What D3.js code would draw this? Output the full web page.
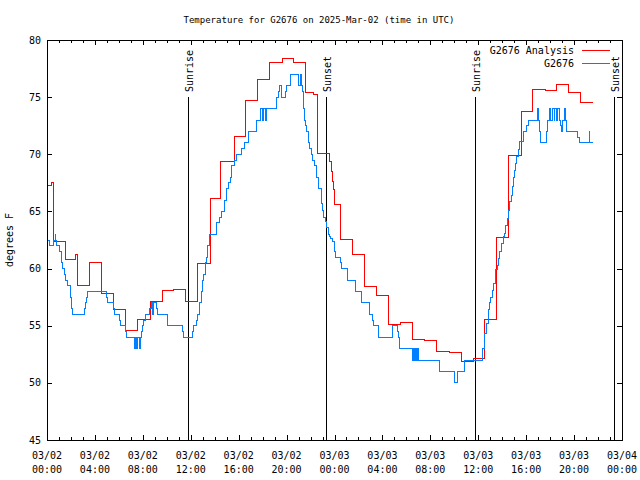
<!DOCTYPE html>
<html><head><meta charset="utf-8">
<script src="https://cdn.jsdelivr.net/npm/d3@7"></script>
<style>
body{margin:0;background:#fff}
text{font-family:"DejaVu Sans Mono",monospace;font-size:10px;fill:#000}
</style>
</head><body>
<svg id="chart" width="640" height="480"></svg>
<script>
// ---------- DATA ----------
const startUTC = Date.UTC(2025, 2, 2, 0, 0);
const titleText = "Temperature for G2676 on 2025-Mar-02 (time in UTC)";
const yLabel = "degrees F";
const seriesNames = ["G2676 Analysis", "G2676"];
const seriesColors = ["#ff0000", "#0080ff"];

// Analysis (hours after 03/02 00:00 UTC, degrees F) - step values
const anaHours = [0,0.39,0.56,1.56,2.4,2.53,3.56,4.53,5.57,6.57,7.57,8.6,9.6,10.58,11.58,12.58,13.63,14.5,15.63,16.61,17.55,18.61,19.62,20.56,21.56,22.23,22.56,23.56,23.71,23.82,23.9,23.98,24.52,25.48,26.49,27.52,28.52,29.55,30.53,31.55,32.53,33.56,34.56,35.58,36.48,37.5,38.54,39.57,40.57,41.59,42.54,43.57,44.57,45.55];
const anaTemps = [67.3,67.55,62.33,60.8,61.25,58.48,60.55,57.86,56.38,54.6,55.56,57.1,58.1,58.2,57.14,60.47,66.09,69.41,71.6,74.75,76.56,78.05,78.4,78.05,75.39,75.2,70.03,69.35,68.48,67.6,66.88,65.63,62.56,61.25,58.39,57.66,55.15,55.24,53.81,53.75,52.76,52.64,51.86,52.15,55.56,62.74,69.91,73.73,75.68,75.6,76.12,75.42,74.55,74.55];

// Observations (hours after 03/02 00:00 UTC, degrees F) - step values
const obsHours = [0,0.08,0.17,0.58,0.67,0.75,0.83,1.08,1.17,1.25,1.33,1.42,1.58,1.75,1.92,2.0,2.08,2.17,3.17,3.25,3.33,3.42,5.0,5.08,5.58,5.67,6.08,6.17,6.58,6.67,7.33,7.42,7.5,7.58,7.75,7.83,7.92,8.0,8.08,8.25,8.58,8.75,8.83,8.92,9.17,9.25,10.08,11.33,11.42,12.13,12.2,12.5,12.6,12.7,12.77,12.86,12.97,13.08,13.19,13.3,13.41,13.58,14.16,14.44,14.58,14.8,15.0,15.14,15.28,15.42,15.69,15.83,16.25,16.47,16.81,17.5,17.86,18.0,18.11,18.2,18.34,19.17,19.31,19.45,19.59,19.87,20.01,20.31,20.98,21.12,21.26,21.31,21.4,21.48,21.59,21.7,21.81,21.95,22.04,22.15,22.3,22.51,22.7,22.93,23.0,23.12,23.23,23.34,23.46,23.57,23.68,23.8,23.96,24.04,24.1,24.54,24.6,25.07,25.74,25.79,26.24,26.27,26.9,26.96,27.16,27.24,27.66,27.69,28.8,29.24,29.33,29.41,30.52,30.6,30.67,30.76,30.82,30.93,31.0,32.8,34.03,34.25,34.89,36.34,36.56,36.7,36.84,36.98,37.06,37.17,37.26,37.4,37.48,37.59,37.7,37.81,37.95,38.09,38.23,38.31,38.42,38.54,38.65,38.76,38.84,38.93,39.01,39.12,39.2,39.34,39.48,39.76,40.04,40.18,40.93,41.01,41.1,41.2,41.71,41.79,41.93,42.07,42.18,42.35,42.4,42.54,42.63,42.77,42.9,42.96,43.05,43.24,43.29,43.38,44.3,44.43,45.27,45.3,45.38,45.55];
const obsTemps = [63,62.5,62,62.5,63,62.5,62,61.5,61,60.5,60,59.5,59,58.5,58,57.5,56.5,56,56.5,57,57.5,58,57.5,57,56.5,56,55.5,55,54.5,54,53,54,53,54,53,54,54.5,55,55.5,56,56.5,57,56,57,56.5,56,55,54.5,54,54.5,55,55.5,56,56.5,57,58,59,59.5,60.5,61,62,63,64,64.5,65,66,67,67.5,68,69,69.5,70,70.5,71,72,73,74,73,74,73,74,75,75.5,76,75,75.5,76,77,76,77,76,75.5,74,73,72.5,72,71,70.5,70,69.5,69,68,67,65.7,65.1,64.5,64.1,63.6,63,62.8,62.6,62.4,62.1,61.5,61,60.5,60,59,58.5,58,57.5,57,56.5,56,55.5,55,54.5,54,55,54.5,54,53,52,53,52,53,52,53,52,51,50,51,52,53,54.3,55.2,56.4,57,57.5,58.1,58.7,59.3,59.9,60.3,60.9,61.5,62.2,62.8,63.1,63.8,64.4,65.1,65.9,66.4,67.2,68,68.6,69.2,69.8,70.4,71.1,72,72.5,73,74,73,72,71,72,73,74,73,74,73,74,73,74,73,72.5,72,73,74,73,72,71.5,71,72,71,71,71];

// Sun events (hours after start)
const sunLabels = ["Sunrise", "Sunset", "Sunrise", "Sunset"];
const sunHours = [11.77, 23.31, 35.75, 47.3];

// Axis ticks
const yTicks = [45, 50, 55, 60, 65, 70, 75, 80];
const xMajorHours = [0, 4, 8, 12, 16, 20, 24, 28, 32, 36, 40, 44, 48];
const xMinorHours = d3.range(0, 49, 1);

// ---------- DRAW ----------
const m = {left: 47, right: 622, top: 40, bottom: 440};
const svg = d3.select("#chart");
const hourMs = 3600 * 1000;
const toDate = h => new Date(startUTC + h * hourMs);

const x = d3.scaleUtc().domain([toDate(0), toDate(48)]).range([m.left, m.right]);
const y = d3.scaleLinear().domain([45, 80]).range([m.bottom, m.top]);

// ticks (inward, mirrored)
const fmtDay = d3.utcFormat("%m/%d"), fmtTime = d3.utcFormat("%H:%M");
function xAxis(gen, ty, size, vals) {
  svg.append("g").attr("transform", `translate(0,${ty})`)
    .call(gen(x).tickValues(vals.map(toDate)).tickSize(size).tickFormat(""))
    .call(g => g.select(".domain").remove())
    .call(g => g.selectAll("line").attr("stroke", "#000").attr("shape-rendering", "crispEdges"));
}
xAxis(d3.axisBottom, m.bottom, -3, xMinorHours);
xAxis(d3.axisBottom, m.bottom, -5, xMajorHours);
xAxis(d3.axisTop, m.top, -3, xMinorHours);
xAxis(d3.axisTop, m.top, -5, xMajorHours);

function yAxis(gen, tx) {
  svg.append("g").attr("transform", `translate(${tx},0)`)
    .call(gen(y).tickValues(yTicks).tickSize(-5).tickFormat(""))
    .call(g => g.select(".domain").remove())
    .call(g => g.selectAll("line").attr("stroke", "#000").attr("shape-rendering", "crispEdges"));
}
yAxis(d3.axisLeft, m.left);
yAxis(d3.axisRight, m.right);

// y tick labels
svg.append("g").selectAll("text").data(yTicks).join("text")
  .attr("x", m.left - 6).attr("y", d => y(d) + 3.5)
  .attr("text-anchor", "end").text(d => d);

// x tick labels (two lines)
const xl = svg.append("g").selectAll("text").data(xMajorHours).join("text")
  .attr("text-anchor", "middle");
xl.append("tspan").attr("x", d => x(toDate(d))).attr("y", 459).text(d => fmtDay(toDate(d)));
xl.append("tspan").attr("x", d => x(toDate(d))).attr("y", 473).text(d => fmtTime(toDate(d)));

// sun lines
sunHours.forEach((h, i) => {
  const sx = Math.round(x(toDate(h))) + 0.5;
  svg.append("line").attr("x1", sx).attr("x2", sx).attr("y1", 97).attr("y2", m.bottom)
    .attr("stroke", "#000").attr("stroke-width", 1).attr("shape-rendering", "crispEdges");
  svg.append("text").attr("transform", `translate(${sx + 4},92) rotate(-90)`)
    .attr("text-anchor", "start").text(sunLabels[i]);
});

// series
const line = d3.line().curve(d3.curveStepAfter)
  .x(d => x(toDate(d[0]))).y(d => y(d[1]));
const ana = anaHours.map((h, i) => [h, anaTemps[i]]);
const obs = obsHours.map((h, i) => [h, obsTemps[i]]);
svg.append("path").datum(ana).attr("d", line).attr("fill", "none")
  .attr("stroke", seriesColors[0]).attr("stroke-width", 1).attr("shape-rendering", "crispEdges");
svg.append("path").datum(obs).attr("d", line).attr("fill", "none")
  .attr("stroke", seriesColors[1]).attr("stroke-width", 1).attr("shape-rendering", "crispEdges");

// frame
svg.append("rect").attr("x", m.left + 0.5).attr("y", m.top + 0.5)
  .attr("width", m.right - m.left).attr("height", m.bottom - m.top)
  .attr("fill", "none").attr("stroke", "#000").attr("stroke-width", 1);

// title
svg.append("text").attr("x", 319).attr("y", 23).attr("text-anchor", "middle")
  .style("font-size", "9px").text(titleText);

// y label
svg.append("text").attr("transform", `translate(13,240) rotate(-90)`)
  .attr("text-anchor", "middle").text(yLabel);

// legend
const legY = [50, 63];
seriesNames.forEach((n, i) => {
  svg.append("text").attr("x", 574).attr("y", legY[i] + 4).attr("text-anchor", "end").text(n);
  svg.append("line").attr("x1", 582).attr("x2", 610).attr("y1", legY[i] + 0.5).attr("y2", legY[i] + 0.5)
    .attr("stroke", seriesColors[i]).attr("stroke-width", 1);
});
</script>
</body></html>
